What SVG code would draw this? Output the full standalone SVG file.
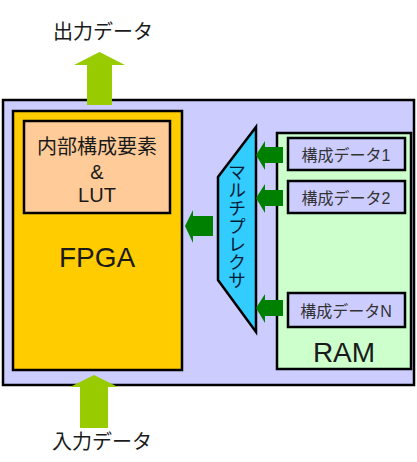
<svg xmlns="http://www.w3.org/2000/svg" width="417" height="462" viewBox="0 0 417 462">
<style>
.t{font-family:"Liberation Sans","Noto Sans CJK JP",sans-serif;fill:#1a1a1a;text-anchor:middle;dominant-baseline:central}
.v{font-family:"Noto Sans CJK JP",sans-serif;fill:#001a33;writing-mode:vertical-rl;text-anchor:middle}
.box{stroke:#000;stroke-width:2.5}
.dbox{fill:#CCCCFF;stroke:#000;stroke-width:2.5}
.big{fill:#99CC00}
.sm{fill:#008000}
</style>
<rect width="417" height="462" fill="#fff"/>
<g id="outer"><rect x="3" y="100" width="411" height="285" fill="#CCCCFF" class="box"/></g>
<g id="fpga">
<rect x="13" y="111" width="169" height="259" fill="#FFCC00" class="box"/>
<text class="t" x="97" y="257" font-size="28">FPGA</text>
</g>
<g id="lut">
<rect x="24" y="121" width="146" height="92" fill="#FFCC99" class="box"/>
<text class="t" x="97" y="147" font-size="20">内部構成要素</text>
<text class="t" x="97" y="172" font-size="20">&amp;</text>
<text class="t" x="97" y="195" font-size="20">LUT</text>
</g>
<g id="ram">
<rect x="277" y="133" width="134" height="236" fill="#CCFFCC" class="box"/>
<text class="t" x="344" y="352" font-size="28">RAM</text>
</g>
<g id="data1"><rect x="288" y="138" width="117" height="32" class="dbox"/><text class="t" x="346" y="155" font-size="16" style="fill:#333">構成データ1</text></g>
<g id="data2"><rect x="288" y="181" width="117" height="32" class="dbox"/><text class="t" x="346" y="198" font-size="16" style="fill:#333">構成データ2</text></g>
<g id="dataN"><rect x="288" y="293" width="117" height="34" class="dbox"/><text class="t" x="346" y="311" font-size="16" style="fill:#333">構成データN</text></g>
<g id="mux">
<polygon points="256,127 256,332 218,280 218,177" fill="#33CCFF" class="box" stroke-linejoin="miter"/>
<text class="v" x="237" y="226" font-size="18">マルチプレクサ</text>
</g>
<g id="connectors">
<polygon class="big" points="87,105 87,65 74,65 99.5,52 125,65 112,65 112,105"/>
<polygon class="big" points="80,428 80,387 70,387 94,375 118,387 108,387 108,428"/>
<polygon class="sm" points="283,147 265,147 265,141 256,155 265,170 265,163 283,163"/>
<polygon class="sm" points="283,190 265,190 265,184 256,198 265,213 265,206 283,206"/>
<polygon class="sm" points="283,300 265,300 265,294 256,308 265,323 265,316 283,316"/>
<polygon class="sm" points="213,216 193,216 193,210 185,226 193,243 193,236 213,236"/>
</g>
<g id="labels">
<text class="t" x="103" y="32" font-size="20">出力データ</text>
<text class="t" x="102" y="442" font-size="20">入力データ</text>
</g>
</svg>
